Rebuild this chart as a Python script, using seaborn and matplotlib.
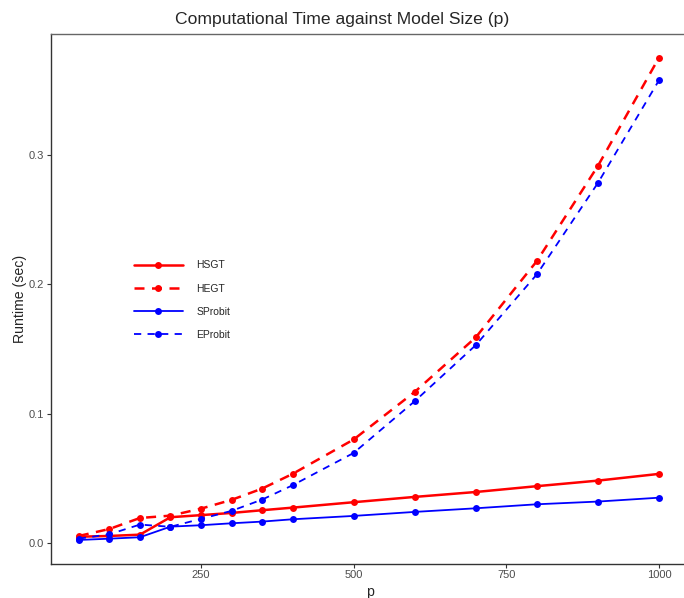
import numpy as np
import pandas as pd
import seaborn as sns
from matplotlib import pyplot as plt

# model sizes
p = [50, 100, 150, 200, 250, 300, 350, 400, 500, 600, 700, 800, 900, 1000]

# runtimes (sec)
hsgt = [0.0048, 0.0054, 0.0064, 0.0199, 0.0215, 0.0232, 0.0253, 0.0273,
        0.0315, 0.0356, 0.0394, 0.0439, 0.0482, 0.0534]
hegt = [0.0054, 0.0108, 0.0193, 0.0211, 0.0265, 0.0333, 0.0420, 0.0534,
        0.0800, 0.1168, 0.1590, 0.2180, 0.2916, 0.3753]
sprobit = [0.0023, 0.0033, 0.0044, 0.0126, 0.0137, 0.0152, 0.0165, 0.0183,
           0.0209, 0.0240, 0.0268, 0.0299, 0.0320, 0.0350]
eprobit = [0.0033, 0.0067, 0.0142, 0.0125, 0.0186, 0.0248, 0.0335, 0.0446,
           0.0696, 0.1096, 0.1530, 0.2077, 0.2784, 0.3578]

series = {'HSGT': hsgt, 'HEGT': hegt, 'SProbit': sprobit, 'EProbit': eprobit}
styles = {
    'HSGT':    dict(color='#ff0000', lw=1.8, dashes=None),
    'HEGT':    dict(color='#ff0000', lw=1.8, dashes=(4, 3)),
    'SProbit': dict(color='#0000ff', lw=1.3, dashes=None),
    'EProbit': dict(color='#0000ff', lw=1.3, dashes=(4, 3.5)),
}

df = pd.DataFrame([(k, x, y) for k, v in series.items() for x, y in zip(p, v)],
                  columns=['method', 'p', 'runtime'])

sns.set_style('white')
plt.rcParams['font.family'] = ['Liberation Sans', 'DejaVu Sans']

fig = plt.figure(figsize=(6.84, 5.98), dpi=100)
# panel runs past the right edge of the figure, as in the reference
ax = fig.add_axes([51 / 684, 34.5 / 598, 637 / 684, 529.5 / 598])

for name in series:
    st = styles[name]
    sns.lineplot(data=df[df.method == name], x='p', y='runtime', ax=ax,
                 color=st['color'], linewidth=st['lw'], marker='o',
                 markersize=5, markeredgewidth=0, label=name)
    line = ax.get_lines()[-1]
    if st['dashes']:
        line.set_dashes(st['dashes'])

ax.set_xlim(4.4, 1047.5)
ax.set_ylim(-0.0159, 0.3936)
ax.set_xticks([250, 500, 750, 1000])
ax.set_yticks([0.0, 0.1, 0.2, 0.3])
ax.tick_params(axis='both', colors='#333333', labelcolor='#4d4d4d',
               labelsize=8, length=3, direction='out', left=True, bottom=True,
               pad=2)

for side in ['left', 'bottom']:
    ax.spines[side].set_color('#333333')
    ax.spines[side].set_linewidth(1.0)
for side in ['top', 'right']:
    ax.spines[side].set_color('#666666')
    ax.spines[side].set_linewidth(1.0)

ax.set_xlabel('p', fontsize=10.2, labelpad=3.5)
ax.set_ylabel('Runtime (sec)', fontsize=10.2)
ax.yaxis.set_label_coords(-0.0377, 0.5)
fig.suptitle('Computational Time against Model Size (p)', fontsize=12.6,
             x=0.5, y=0.98, va='top')

ax.legend(frameon=False, loc='upper left', bbox_to_anchor=(0.115, 0.59),
          handlelength=4.7, handletextpad=1.3, labelspacing=1.26, fontsize=7.5)

plt.savefig('out.png', dpi=100)
